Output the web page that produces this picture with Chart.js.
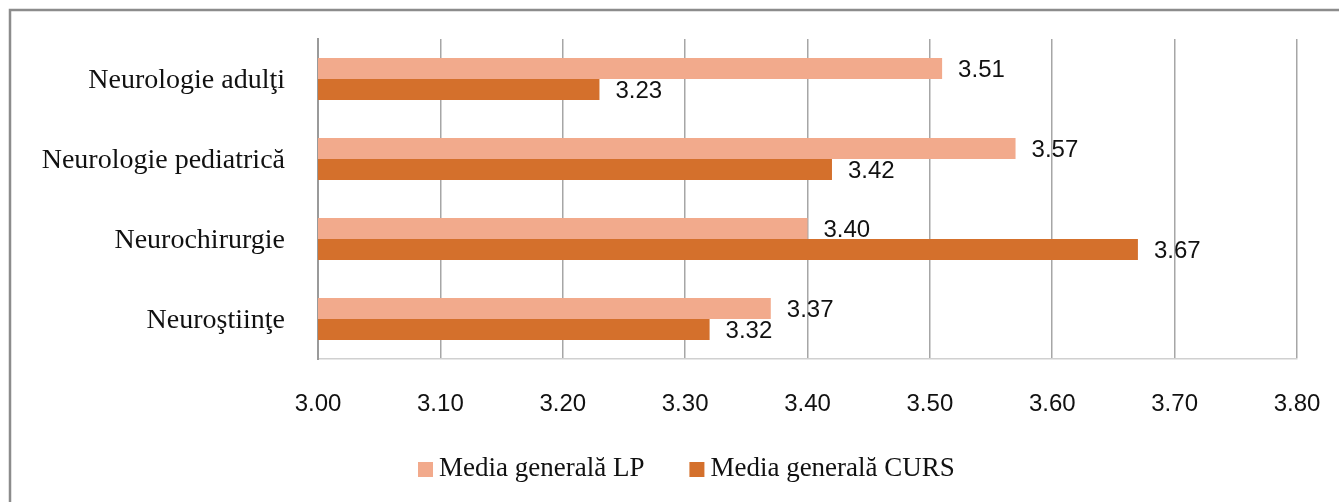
<!DOCTYPE html>
<html>
<head>
<meta charset="utf-8">
<script src="https://cdn.jsdelivr.net/npm/chart.js@4/dist/chart.umd.min.js"></script>
<style>
  html, body { margin: 0; padding: 0; background: #fff; }
  #wrap { width: 1339px; height: 502px; position: relative; }
</style>
</head>
<body>
<div id="wrap"><canvas id="grafic"></canvas></div>
<script>
// --- datele graficului
const categorii = ['Neurologie adulţi', 'Neurologie pediatrică', 'Neurochirurgie', 'Neuroştiinţe'];
const serii = ['Media generală LP', 'Media generală CURS'];
const mediaLP   = [3.51, 3.57, 3.40, 3.37];
const mediaCURS = [3.23, 3.42, 3.67, 3.32];
const etichetaAxa = ['3.00', '3.10', '3.20', '3.30', '3.40', '3.50', '3.60', '3.70', '3.80'];

const culoareLP = '#F2AA8C';
const culoareCURS = '#D4702C';
const fontSerif = '"Liberation Serif", "Times New Roman", serif';
const fontSans = '"Liberation Sans", Arial, sans-serif';

// chenarul gri din jurul graficului
const chenar = {
  id: 'chenar',
  beforeDraw(chart) {
    const ctx = chart.ctx;
    ctx.save();
    ctx.fillStyle = '#fff';
    ctx.fillRect(0, 0, chart.width, chart.height);
    ctx.strokeStyle = '#8c8c8c';
    ctx.lineWidth = 2.5;
    ctx.strokeRect(10, 10, chart.width + 20, chart.height + 20);
    ctx.restore();
  }
};

// valorile scrise la capatul barelor
const etichete = {
  id: 'etichete',
  afterDatasetsDraw(chart) {
    const ctx = chart.ctx;
    ctx.save();
    ctx.font = '24px ' + fontSans;
    ctx.fillStyle = '#111';
    ctx.textBaseline = 'middle';
    ctx.textAlign = 'left';
    chart.data.datasets.forEach((ds, i) => {
      chart.getDatasetMeta(i).data.forEach((bar, j) => {
        ctx.fillText(ds.data[j].toFixed(2), bar.x + 16, bar.y + 2);
      });
    });
    ctx.restore();
  }
};

// legenda de jos, desenata de mana ca sa semene cu cea din Excel
const legenda = {
  id: 'legenda',
  afterDraw(chart) {
    const ctx = chart.ctx;
    ctx.save();
    ctx.font = '27px ' + fontSerif;
    ctx.textBaseline = 'middle';
    let x = 418;
    const y = 469;
    chart.data.datasets.forEach((ds) => {
      ctx.fillStyle = ds.backgroundColor;
      ctx.fillRect(x, y - 7, 15, 15);
      ctx.fillStyle = '#111';
      ctx.fillText(ds.label, x + 21, y);
      x += 21 + ctx.measureText(ds.label).width + 45;
    });
    ctx.restore();
  }
};

new Chart(document.getElementById('grafic'), {
  type: 'bar',
  data: {
    labels: categorii,
    datasets: [
      { label: serii[0], data: mediaLP, backgroundColor: culoareLP },
      { label: serii[1], data: mediaCURS, backgroundColor: culoareCURS }
    ]
  },
  options: {
    indexAxis: 'y',
    responsive: true,
    maintainAspectRatio: false,
    animation: false,
    categoryPercentage: 0.525,
    barPercentage: 1,
    layout: { padding: { top: 39, right: 42, left: 0, bottom: 0 } },
    plugins: {
      legend: { display: false },
      tooltip: { enabled: false }
    },
    scales: {
      x: {
        min: 3.0,
        max: 3.8,
        ticks: {
          stepSize: 0.1,
          color: '#111',
          padding: 31,
          maxRotation: 0,
          font: { family: fontSans, size: 24 },
          callback: (v, i) => etichetaAxa[i]
        },
        grid: { color: '#a6a6a6', lineWidth: 1.5, drawTicks: false },
        border: { color: '#d0d0d0', width: 1.5 },
        afterFit(scale) {
          scale.height = 143;
          scale.paddingLeft = 0;
          scale.paddingRight = 0;
        }
      },
      y: {
        ticks: {
          color: '#111',
          padding: 33,
          labelOffset: 2,
          font: { family: fontSerif, size: 28 }
        },
        grid: { display: false, drawTicks: false },
        border: { color: '#9a9a9a', width: 2 },
        afterFit(scale) {
          scale.width = 318;
          scale.paddingTop = 0;
          scale.paddingBottom = 0;
        }
      }
    }
  },
  plugins: [chenar, etichete, legenda]
});
</script>
</body>
</html>
